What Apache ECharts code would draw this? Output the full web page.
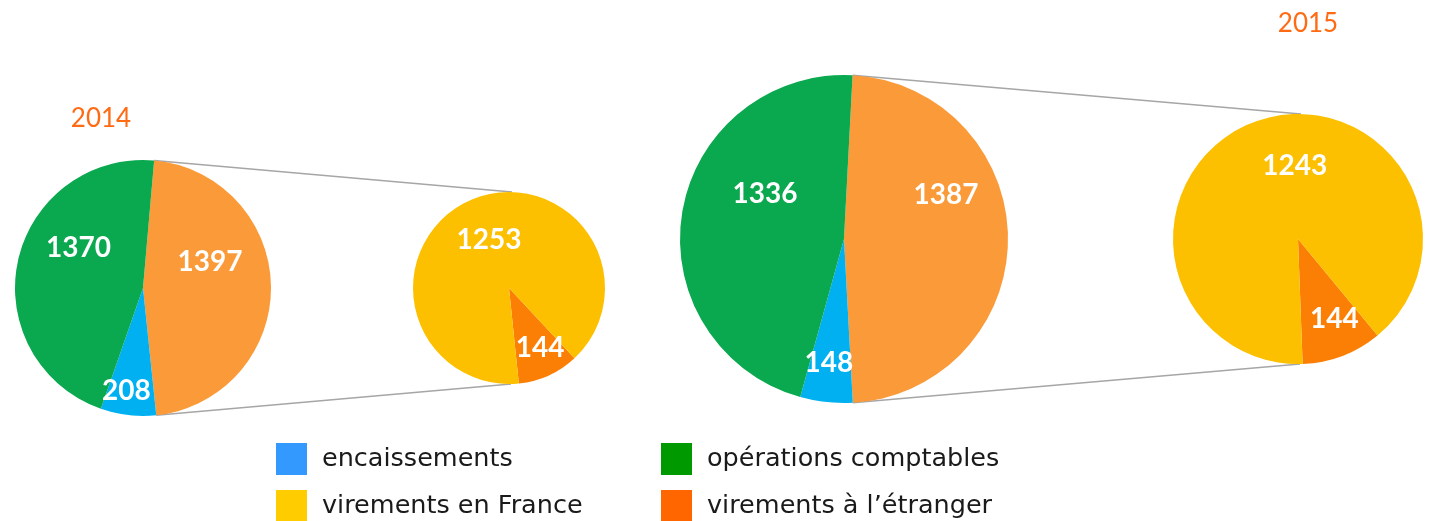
<!DOCTYPE html>
<html>
<head>
<meta charset="utf-8">
<script src="https://cdn.jsdelivr.net/npm/echarts@6/dist/echarts.min.js"></script>
<style>
  html, body { margin: 0; padding: 0; background: #fff; }
  #main { width: 1437px; height: 521px; }
</style>
</head>
<body>
<div id="main"></div>
<script>
// données
const years = ['2014', '2015'];
const mainNames = ['virements', 'encaissements', 'opérations comptables'];
const main2014 = [1397, 208, 1370];
const main2015 = [1387, 148, 1336];
const detailNames = ['virements à l’étranger', 'virements en France'];
const detail2014 = [144, 1253];
const detail2015 = [144, 1243];

// couleurs
const mainColors = ['#FA9A38', '#00B0F0', '#0AA84F'];
const detailColors = ['#FB7F04', '#FCC000'];
const legendColors = {
    'encaissements': '#3399FF',
    'opérations comptables': '#009900',
    'virements en France': '#FFCC00',
    'virements à l’étranger': '#FF6600'
};

// mise en page (px)
const layout = [
    { big: [143, 288, 128], bigStart: 85, small: [509, 288, 96], smallStart: -47,
      title: [101, 119],
      bigOff: [[0, -25], [-9, 36], [1, -26]], smallOff: [[10, 14], [1, -2]] },
    { big: [844, 239, 164], bigStart: 87, small: [1298, 239, 125], smallStart: -50.5,
      title: [1308, 24],
      bigOff: [[17, -44], [-6, 39], [5, -31]], smallOff: [[13, 19], [20, -12]] }
];
const mainData = [main2014, main2015];
const detailData = [detail2014, detail2015];

const labelStyle = {
    show: true,
    position: 'inside',
    formatter: '{c}',
    color: '#fff',
    fontSize: 28,
    fontWeight: 'bold',
    fontFamily: 'Lato'
};

function offsetLayout(offs) {
    return function (params) {
        const r = params.labelRect;
        const o = offs[params.dataIndex];
        return { x: r.x + r.width / 2 + o[0], y: r.y + r.height / 2 + o[1] };
    };
}

let series = [];
let graphic = [];
layout.forEach((l, i) => {
    series.push({
        type: 'pie',
        center: [l.big[0], l.big[1]],
        radius: [0, l.big[2]],
        startAngle: l.bigStart,
        clockwise: true,
        label: labelStyle,
        labelLine: { show: false },
        labelLayout: offsetLayout(l.bigOff),
        emphasis: { scale: false },
        data: mainData[i].map((v, k) => ({ name: mainNames[k], value: v, itemStyle: { color: mainColors[k] } }))
    });
    series.push({
        type: 'pie',
        center: [l.small[0], l.small[1]],
        radius: [0, l.small[2]],
        startAngle: l.smallStart,
        clockwise: true,
        label: labelStyle,
        labelLine: { show: false },
        labelLayout: offsetLayout(l.smallOff),
        emphasis: { scale: false },
        data: detailData[i].map((v, k) => ({ name: detailNames[k], value: v, itemStyle: { color: detailColors[k] } }))
    });

    // lignes de liaison
    const total = mainData[i].reduce((a, b) => a + b, 0);
    const a0 = l.bigStart * Math.PI / 180;
    const a1 = (l.bigStart - mainData[i][0] / total * 360) * Math.PI / 180;
    const p0 = [l.big[0] + l.big[2] * Math.cos(a0), l.big[1] - l.big[2] * Math.sin(a0)];
    const p1 = [l.big[0] + l.big[2] * Math.cos(a1), l.big[1] - l.big[2] * Math.sin(a1)];
    const lineStyle = { stroke: '#a6a6a6', lineWidth: 1.5 };
    graphic.push({ type: 'line', z: -1, shape: { x1: p0[0], y1: p0[1], x2: l.small[0] + 3, y2: l.small[1] - l.small[2] }, style: lineStyle });
    graphic.push({ type: 'line', z: -1, shape: { x1: p1[0], y1: p1[1], x2: l.small[0] + 2, y2: l.small[1] + l.small[2] }, style: lineStyle });

    graphic.push({
        type: 'text', x: l.title[0], y: l.title[1],
        style: { text: years[i], fill: '#FF6A13', fontSize: 26, fontFamily: 'Lato', align: 'center', verticalAlign: 'middle' }
    });
});

const legendText = { color: '#1a1a1a', fontSize: 25.5, fontFamily: 'DejaVu Sans', padding: [0, 0, 0, 10] };
function legendCol(left, names) {
    return {
        left: left, top: 443, height: 120, padding: 0,
        orient: 'vertical', icon: 'rect',
        itemWidth: 31, itemHeight: 32, itemGap: 15,
        selectedMode: false,
        textStyle: legendText,
        data: names.map(n => ({ name: n, itemStyle: { color: legendColors[n] } }))
    };
}

let chart = echarts.init(document.getElementById('main'));
chart.setOption({
    backgroundColor: '#fff',
    animation: false,
    legend: [
        legendCol(276, ['encaissements', 'virements en France']),
        legendCol(661, ['opérations comptables', 'virements à l’étranger'])
    ],
    graphic: graphic,
    series: series
});
</script>
</body>
</html>
